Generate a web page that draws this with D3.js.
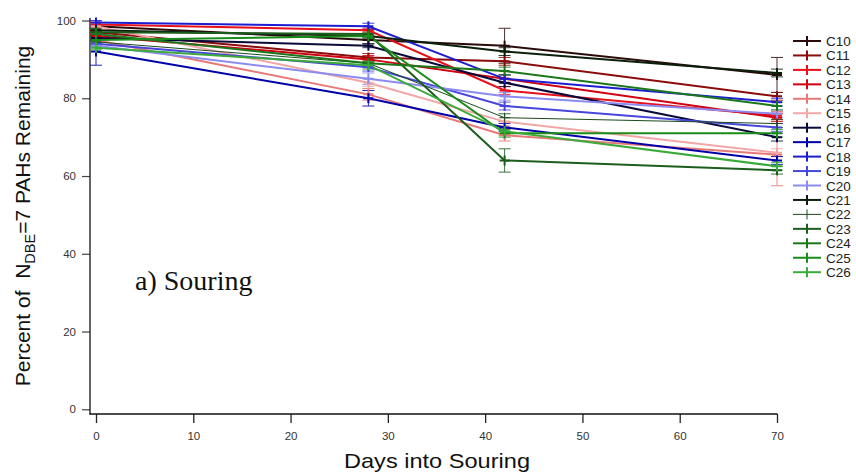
<!DOCTYPE html>
<html><head><meta charset="utf-8">
<script src="https://cdn.jsdelivr.net/npm/d3@7"></script>
<style>body{margin:0;background:#fff}svg{display:block}</style>
</head><body><svg id="c" width="856" height="473"></svg>
<script>
const days = [0, 28, 42, 70];
const seriesNames = ["C10","C11","C12","C13","C14","C15","C16","C17","C18","C19","C20","C21","C22","C23","C24","C25","C26"];
const seriesColors = ["#2a0a0a","#8b0a0a","#e8101a","#d00010","#e87878","#f2a6a6","#0a0a3a","#0000a8","#1c1cd0","#4646dc","#8c8cf0","#0a1e0a","#1c4a1c","#1c5c1c","#1a781a","#1a8c1a","#3aaa3a"];
const seriesWidths = [2,2,2,2,2,2,2,2,2,2,2,2,1,2,2,2,2];
const C10 = [98.5, 95.0, 93.5, 86.0];
const C11 = [97.0, 90.5, 89.5, 80.5];
const C12 = [99.0, 97.5, 82.0, 75.5];
const C13 = [96.0, 90.0, 85.0, 75.0];
const C14 = [95.0, 81.0, 70.5, 65.5];
const C15 = [98.5, 84.0, 74.0, 66.0];
const C16 = [95.5, 93.5, 84.0, 70.0];
const C17 = [92.0, 80.0, 72.5, 64.0];
const C18 = [99.5, 98.5, 85.0, 79.0];
const C19 = [94.0, 88.0, 78.0, 72.5];
const C20 = [93.5, 85.0, 80.5, 76.0];
const C21 = [97.5, 96.0, 92.0, 86.5];
const C22 = [94.5, 89.0, 75.0, 73.5];
const C23 = [97.0, 96.5, 64.0, 61.5];
const C24 = [96.5, 89.0, 87.0, 78.0];
const C25 = [95.0, 96.0, 71.0, 71.0];
const C26 = [93.0, 88.5, 71.5, 62.5];
const seriesValues = [C10,C11,C12,C13,C14,C15,C16,C17,C18,C19,C20,C21,C22,C23,C24,C25,C26];
const E10 = [1.0, 1.0, 4.5, 4.5];
const E11 = [0.5, 1.0, 1.0, 1.0];
const E12 = [0.5, 0.5, 1.0, 1.0];
const E13 = [0.5, 1.0, 1.0, 1.0];
const E14 = [0.5, 1.5, 1.5, 8.0];
const E15 = [0.5, 1.0, 1.0, 1.0];
const E16 = [0.5, 0.5, 1.0, 1.0];
const E17 = [3.5, 2.0, 1.0, 1.0];
const E18 = [0.5, 0.8, 1.0, 1.0];
const E19 = [0.5, 1.0, 1.0, 1.0];
const E20 = [0.5, 1.5, 1.0, 1.0];
const E21 = [0.5, 0.5, 1.0, 1.0];
const E22 = [0.5, 0.5, 1.0, 1.0];
const E23 = [1.0, 1.0, 3.0, 1.0];
const E24 = [0.5, 1.0, 1.0, 1.0];
const E25 = [0.5, 1.0, 1.0, 1.0];
const E26 = [0.5, 1.0, 1.0, 1.0];
const seriesErrors = [E10,E11,E12,E13,E14,E15,E16,E17,E18,E19,E20,E21,E22,E23,E24,E25,E26];
const xTicks = [0,10,20,30,40,50,60,70];
const yTicks = [0,20,40,60,80,100];

const svg = d3.select("#c");
const x = d3.scaleLinear().domain([0,70]).range([96,777]);
const y = d3.scaleLinear().domain([0,100]).range([409.3,20.5]);
const font = "Liberation Sans, Arial, sans-serif";

// axes
const gx = svg.append("g").attr("transform","translate(0,414)")
  .call(d3.axisBottom(x).tickValues(xTicks).tickSize(9).tickPadding(9).tickFormat(d3.format("d")));
gx.select(".domain").remove();
gx.selectAll("text").attr("font-family",font).attr("font-size",11.5).attr("fill","#333");
gx.selectAll("line").attr("stroke","#222").attr("stroke-width",1.3);
const gy = svg.append("g").attr("transform","translate(90,0)")
  .call(d3.axisLeft(y).tickValues(yTicks).tickSize(8).tickPadding(6));
gy.select(".domain").remove();
gy.selectAll("text").attr("font-family",font).attr("font-size",11.5).attr("fill","#333");
gy.selectAll("line").attr("stroke","#444").attr("stroke-width",1.2);
svg.append("line").attr("x1",90).attr("x2",90).attr("y1",18).attr("y2",414.5).attr("stroke","#111").attr("stroke-width",1.3);
svg.append("line").attr("x1",89.5).attr("x2",777.5).attr("y1",414).attr("y2",414).attr("stroke","#111").attr("stroke-width",1.3);

// titles
svg.append("text").attr("x",437).attr("y",468).attr("text-anchor","middle")
  .attr("font-family",font).attr("font-size",21).attr("textLength",186).attr("lengthAdjust","spacingAndGlyphs")
  .attr("fill","#111").text("Days into Souring");
const yt = svg.append("text").attr("transform","translate(30,216) rotate(-90)").attr("text-anchor","middle")
  .attr("font-family",font).attr("font-size",21).attr("fill","#111").style("white-space","pre");
yt.append("tspan").text("Percent of  N");
yt.append("tspan").attr("font-size",14.5).attr("dy",5).text("DBE");
yt.append("tspan").attr("dy",-5).text("=7 PAHs Remaining");
svg.append("text").attr("x",135).attr("y",290).attr("font-family","Liberation Serif, Times New Roman, serif")
  .attr("font-size",28).attr("fill","#111").text("a) Souring");

// data
const data = seriesNames.map((n,i)=>({name:n,color:seriesColors[i],w:seriesWidths[i],
  pts:days.map((d,j)=>({d,v:seriesValues[i][j],e:seriesErrors[i][j]}))}));
const plot = svg.append("g");
data.forEach(s=>{
  const g = plot.append("g").attr("stroke",s.color).attr("stroke-width",1).attr("opacity",0.85);
  s.pts.forEach(p=>{
    g.append("line").attr("x1",x(p.d)).attr("x2",x(p.d)).attr("y1",y(p.v-p.e)).attr("y2",y(p.v+p.e));
    [p.v-p.e,p.v+p.e].forEach(v=>g.append("line").attr("x1",x(p.d)-6).attr("x2",x(p.d)+6).attr("y1",y(v)).attr("y2",y(v)));
  });
});
const line = d3.line().x(p=>x(p.d)).y(p=>y(p.v));
data.forEach(s=>{
  plot.append("path").datum(s.pts).attr("d",line).attr("fill","none").attr("stroke",s.color).attr("stroke-width",s.w);
});
data.forEach(s=>{
  s.pts.forEach(p=>{
    plot.append("path").attr("d",`M${x(p.d)-5},${y(p.v)}H${x(p.d)+5}M${x(p.d)},${y(p.v)-5}V${y(p.v)+5}`)
      .attr("stroke",s.color).attr("stroke-width",s.w===1?1:2);
  });
});

// legend
const lg = svg.append("g");
data.forEach((s,i)=>{
  const ly = 41 + i*14.45;
  lg.append("line").attr("x1",793).attr("x2",821).attr("y1",ly).attr("y2",ly).attr("stroke",s.color).attr("stroke-width",s.w);
  lg.append("line").attr("x1",807).attr("x2",807).attr("y1",ly-5).attr("y2",ly+5).attr("stroke",s.color).attr("stroke-width",s.w===1?1:2);
  lg.append("text").attr("x",826).attr("y",ly+5).attr("font-family",font).attr("font-size",13.5).attr("fill","#222").text(s.name);
});
</script></body></html>
